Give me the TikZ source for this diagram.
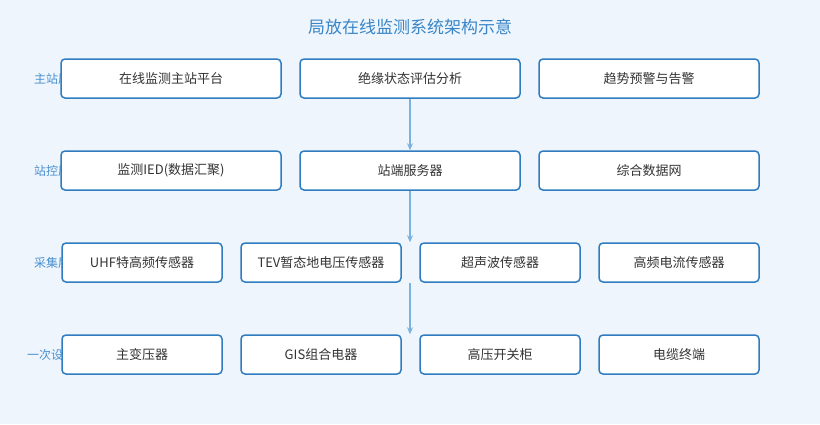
\documentclass[tikz,border=0pt]{standalone}
\usepackage{fontspec}
\setmainfont{Noto Sans CJK SC}
\usetikzlibrary{arrows.meta}
\definecolor{bg}{HTML}{EEF5FC}
\definecolor{bd}{HTML}{2F7DC0}
\definecolor{ar}{HTML}{7AB3DF}
\definecolor{tt}{HTML}{3A86C8}
\definecolor{lb}{HTML}{4A90D0}
\tikzset{box/.style={draw=bd,line width=1.5pt,fill=white,rounded corners=4pt,inner sep=0pt,font=\fontsize{13}{15}\selectfont,text=black!80},
lay/.style={anchor=west,text=lb,font=\fontsize{12}{14}\selectfont,inner sep=0pt},
arr/.style={draw=ar,line width=1.2pt,-{Stealth[length=7pt,width=6pt]}}}
\begin{document}
\begin{tikzpicture}[x=1pt,y=-1pt]
\fill[bg] (0,0) rectangle (820,424);
\useasboundingbox (0,0) rectangle (820,424);
\node[text=tt,font=\fontsize{17}{20}\selectfont] (title) at (410,27) {局放在线监测系统架构示意};
\node[lay] (l1) at (34,79) {主站层};
\node[lay] (l2) at (34,171) {站控层};
\node[lay] (l3) at (34,263) {采集层};
\node[lay] (l4) at (27,355) {一次设备};
\newcommand{\bx}[6]{\node[box,minimum width=#4 pt,minimum height=39pt] (#1) at (#2,#3) {#5};}
\bx{a1}{171}{78.5}{220}{在线监测主站平台}{}
\bx{a2}{410}{78.5}{220}{绝缘状态评估分析}{}
\bx{a3}{649}{78.5}{220}{趋势预警与告警}{}
\bx{b1}{171}{170.5}{220}{监测IED(数据汇聚)}{}
\bx{b2}{410}{170.5}{220}{站端服务器}{}
\bx{b3}{649}{170.5}{220}{综合数据网}{}
\bx{c1}{142}{262.5}{160}{UHF特高频传感器}{}
\bx{c2}{321}{262.5}{160}{TEV暂态地电压传感器}{}
\bx{c3}{500}{262.5}{160}{超声波传感器}{}
\bx{c4}{679}{262.5}{160}{高频电流传感器}{}
\bx{d1}{142}{354.5}{160}{主变压器}{}
\bx{d2}{321}{354.5}{160}{GIS组合电器}{}
\bx{d3}{500}{354.5}{160}{高压开关柜}{}
\bx{d4}{679}{354.5}{160}{电缆终端}{}
\draw[arr] (a2.south) -- (b2.north);
\draw[arr] (b2.south) -- (b2.south |- c3.north);
\draw[arr] (b2.south |- c3.south) -- (b2.south |- d3.north);
\end{tikzpicture}
\end{document}
